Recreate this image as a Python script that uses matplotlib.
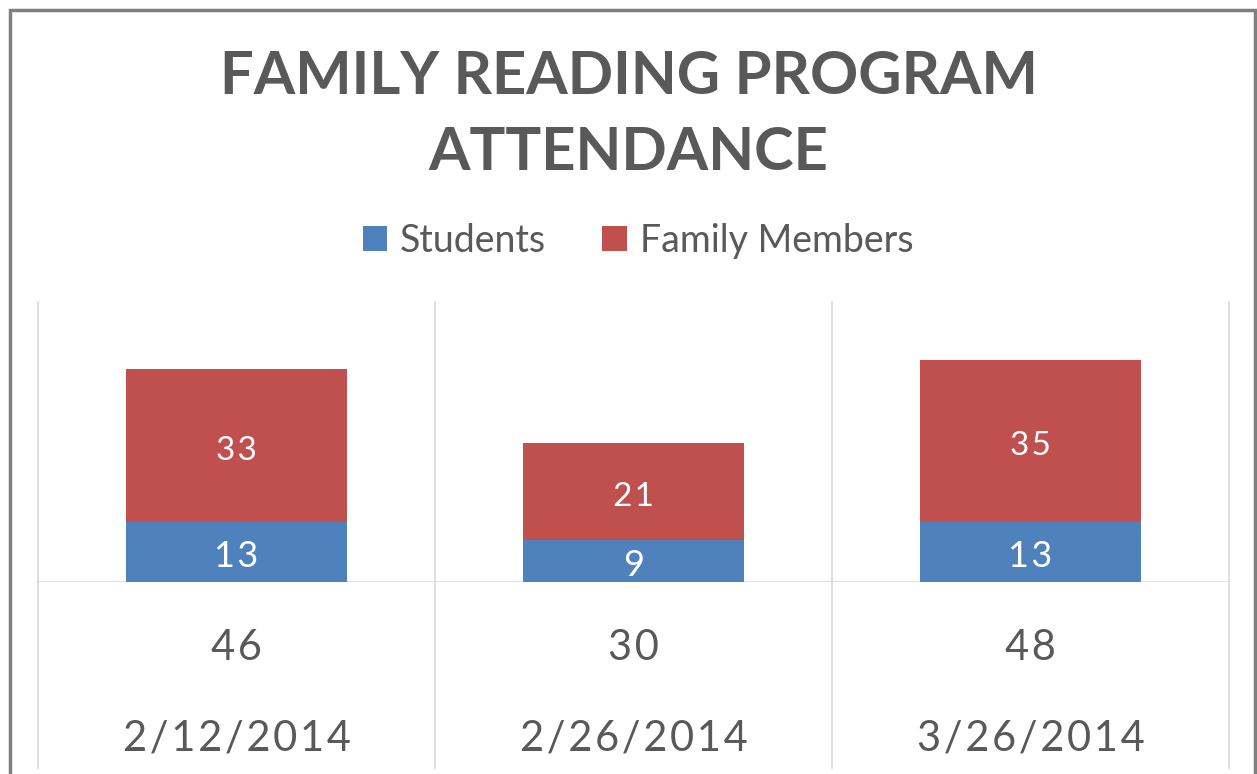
import matplotlib.pyplot as plt
import matplotlib.transforms as mtransforms
from matplotlib.patches import Rectangle


dates = ['2/12/2014', '2/26/2014', '3/26/2014']
students = [13, 9, 13]
family_members = [33, 21, 35]

blue = '#4F81BD'
red = '#C0504D'
text_gray = '#595959'
grid_gray = '#D9D9D9'

plt.rcParams['font.family'] = ['Lato', 'DejaVu Sans']

W, H = 1257, 774
HAIR = '\u200a'   # the original labels are a bit letter-spaced


def spaced(s):
    return HAIR.join(s)


fig = plt.figure(figsize=(W / 100, H / 100), dpi=100)

# plot area in pixel terms: x 38..1229, y 302..582
ax = fig.add_axes([38 / W, 1 - 582 / H, (1229 - 38) / W, 280 / H])

x = list(range(len(dates)))
b1 = ax.bar(x, students, width=0.555, color=blue, label='Students', zorder=3)
b2 = ax.bar(x, family_members, width=0.555, bottom=students, color=red,
            label='Family Members', zorder=3)
ax.bar_label(b1, labels=[spaced(str(v)) for v in students], label_type='center',
             color='white', fontsize=26, padding=-3)
ax.bar_label(b2, labels=[spaced(str(v)) for v in family_members],
             label_type='center', color='white', fontsize=24, padding=-4)

ax.set_xlim(-0.5, len(dates) - 0.5)
ax.set_ylim(0, 60.5)
ax.set_xticks([])
ax.set_yticks([])
for s in ax.spines.values():
    s.set_visible(False)

# category separators run down through the table rows
for edge in [i - 0.5 for i in range(len(dates) + 1)]:
    ax.axvline(edge, ymin=-0.665, ymax=1, color=grid_gray, lw=1.2, clip_on=False)
ax.axhline(0, color=grid_gray, lw=1.2)

trans = mtransforms.blended_transform_factory(ax.transData, ax.transAxes)
for i, d in enumerate(dates):
    total = students[i] + family_members[i]
    ax.text(i, -0.235, spaced(str(total)), transform=trans, ha='center',
            va='center', fontsize=30, color=text_gray)
    ax.text(i, -0.56, spaced(d), transform=trans, ha='center', va='center',
            fontsize=30, color=text_gray)

fig.text(0.5, 1 - 115 / H, 'FAMILY READING PROGRAM\nATTENDANCE', ha='center',
         va='center', fontsize=43, fontweight='bold', color=text_gray,
         linespacing=1.52)

ax.legend(loc='center', bbox_to_anchor=(638 / W, 1 - 241 / H),
          bbox_transform=fig.transFigure, ncol=2, frameon=False, fontsize=27,
          handlelength=0.65, handleheight=0.65, handletextpad=0.35,
          columnspacing=1.5, labelcolor=text_gray)

# outer frame of the chart object
fig.patches.append(Rectangle((10 / W, -0.1), (1255 - 10) / W, 1.1 - 10 / H,
                             transform=fig.transFigure, fill=False,
                             edgecolor='#7F7F7F', lw=2.5))

fig.savefig('out.png', dpi=100)
